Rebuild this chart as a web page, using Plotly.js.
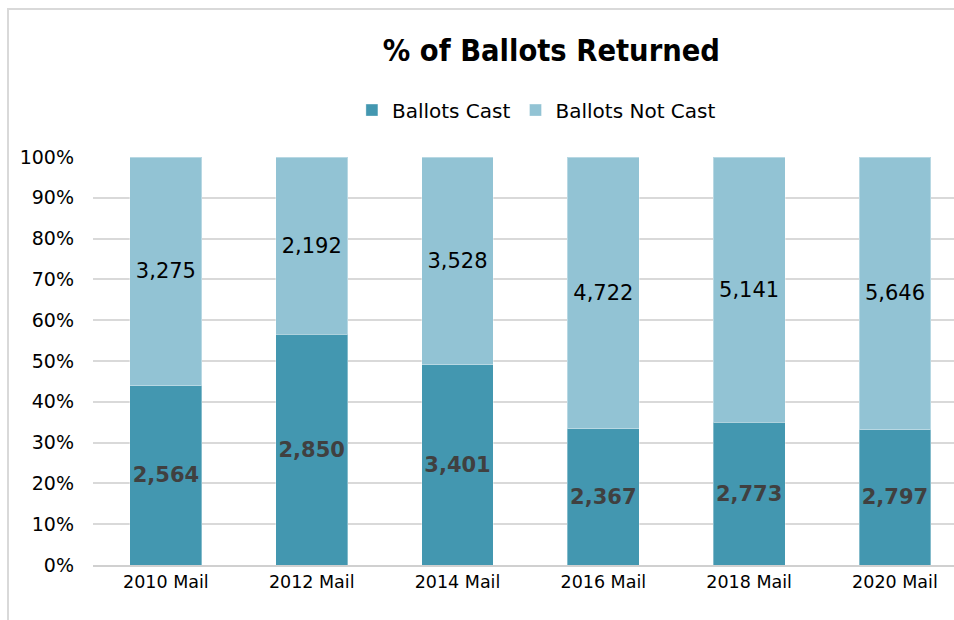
<!DOCTYPE html>
<html>
<head>
<meta charset="utf-8">
<script src="https://cdn.plot.ly/plotly-3.0.1.min.js"></script>
<style>
  html, body { margin: 0; padding: 0; background: #ffffff; }
  #wrap { position: relative; width: 954px; height: 620px; overflow: hidden; }
  #chart { width: 954px; height: 620px; }
  #frame { position: absolute; left: 7px; top: 8px; width: 1000px; height: 700px;
           border-left: 2px solid #d9d9d9; border-top: 2px solid #d9d9d9; pointer-events: none; }
</style>
</head>
<body>
<div id="wrap">
  <div id="chart"></div>
  <div id="frame"></div>
</div>
<script>
const categories = ["2010 Mail", "2012 Mail", "2014 Mail", "2016 Mail", "2018 Mail", "2020 Mail"];
const ballotsCast = [2564, 2850, 3401, 2367, 2773, 2797];
const ballotsNotCast = [3275, 2192, 3528, 4722, 5141, 5646];
const yTickVals = [0, 10, 20, 30, 40, 50, 60, 70, 80, 90, 100];

const FONT = "'DejaVu Sans', Lato, sans-serif";
const TITLE_FONT = "'DejaVu Sans Condensed', 'DejaVu Sans', sans-serif";
const fmt = v => v.toLocaleString('en-US');

const traces = [
  {
    type: 'bar', name: 'Ballots Cast', x: categories, y: ballotsCast,
    marker: { color: '#4397b0', line: { color: 'rgba(255,255,255,0.35)', width: 1 } },
    text: ballotsCast.map(v => '<b>' + fmt(v) + '</b>'), textposition: 'inside', insidetextanchor: 'middle',
    textangle: 0, constraintext: 'none',
    textfont: { family: FONT, size: 21, color: '#404040' },
    hoverinfo: 'skip'
  },
  {
    type: 'bar', name: 'Ballots Not Cast', x: categories, y: ballotsNotCast,
    marker: { color: '#92c3d4', line: { color: 'rgba(255,255,255,0.35)', width: 1 } },
    text: ballotsNotCast.map(fmt), textposition: 'inside', insidetextanchor: 'middle',
    textangle: 0, constraintext: 'none',
    textfont: { family: FONT, size: 21, color: '#000000' },
    hoverinfo: 'skip'
  }
];

const layout = {
  width: 954, height: 620,
  margin: { l: 93, r: 0, t: 157, b: 55 },
  paper_bgcolor: '#ffffff', plot_bgcolor: '#ffffff',
  font: { family: FONT, color: '#000000' },
  barmode: 'stack', barnorm: 'percent', bargap: 0.507,
  title: {
    text: '<b>% of Ballots Returned</b>',
    font: { family: TITLE_FONT, size: 30.5, color: '#000000' },
    xref: 'container', x: 0.578, xanchor: 'center',
    yref: 'container', y: 1 - 50 / 620, yanchor: 'middle'
  },
  showlegend: true,
  legend: {
    orientation: 'h', xref: 'paper', x: 0.515, xanchor: 'center',
    yref: 'paper', y: 1.115, yanchor: 'middle',
    font: { family: FONT, size: 20, color: '#000000' },
    traceorder: 'normal', itemwidth: 30
  },
  xaxis: {
    type: 'category', range: [-0.5, 5.405],
    showgrid: false, showline: true, linecolor: '#d0d0d0', linewidth: 2,
    ticks: '', tickfont: { family: FONT, size: 17.5, color: '#000000' },
    fixedrange: true
  },
  yaxis: {
    range: [0, 100], tickvals: yTickVals, ticktext: yTickVals.map(v => v + '%'),
    showgrid: true, gridcolor: '#d9d9d9', gridwidth: 2, zeroline: false,
    showline: false, ticks: '', ticklabelstandoff: 18,
    tickfont: { family: FONT, size: 19, color: '#000000' },
    fixedrange: true
  }
};

Plotly.newPlot('chart', traces, layout, { staticPlot: true, displayModeBar: false });
</script>
</body>
</html>
